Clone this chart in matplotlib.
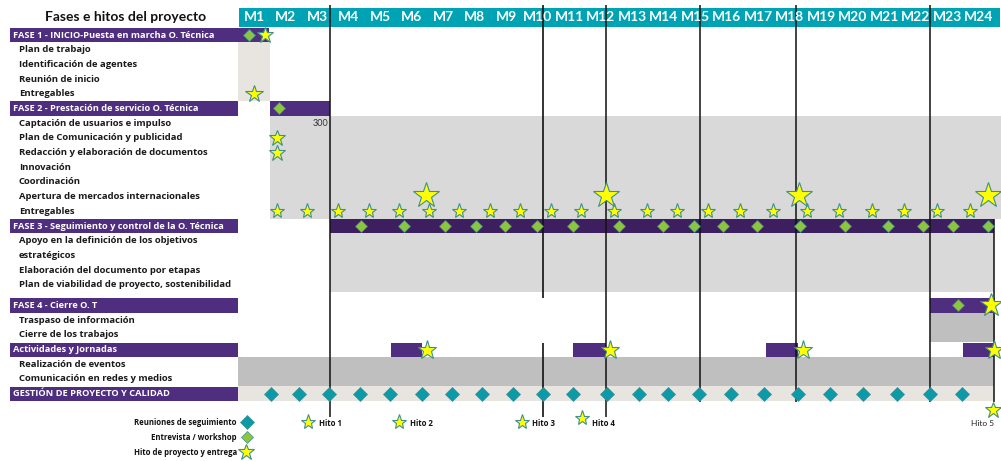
import matplotlib
matplotlib.use("Agg")
import matplotlib.pyplot as plt
from matplotlib.patches import Rectangle

# ---------------- data ----------------
title = "Fases e hitos del proyecto"
months = ["M1", "M2", "M3", "M4", "M5", "M6", "M7", "M8", "M9", "M10", "M11", "M12",
          "M13", "M14", "M15", "M16", "M17", "M18", "M19", "M20", "M21", "M22", "M23", "M24"]

row_labels = [
    "FASE 1 - INICIO-Puesta en marcha O. Técnica",
    "Plan de trabajo",
    "Identificación de agentes",
    "Reunión de inicio",
    "Entregables",
    "FASE 2 - Prestación de servicio O. Técnica",
    "Captación de usuarios e impulso",
    "Plan de Comunicación y publicidad",
    "Redacción y elaboración de documentos",
    "Innovación",
    "Coordinación",
    "Apertura de mercados internacionales",
    "Entregables",
    "FASE 3 - Seguimiento y control de la O. Técnica",
    "Apoyo en la definición de los objetivos",
    "estratégicos",
    "Elaboración del documento por etapas",
    "Plan de viabilidad de proyecto, sostenibilidad",
    "FASE 4 - Cierre O. T",
    "Traspaso de información",
    "Cierre de los trabajos",
    "Actividades y Jornadas",
    "Realización de eventos",
    "Comunicación en redes y medios",
    "GESTIÓN DE PROYECTO Y CALIDAD",
]
phase_rows = [0, 5, 13, 18, 21, 24]

# shaded blocks: (first row, last row, start month, end month, colour)
blocks = [
    (1, 4, 0.0, 1.0, "#e8e4df"),
    (6, 12, 1.0, 24.2, "#d9d9d9"),
    (14, 17, 2.9, 24.0, "#d9d9d9"),
    (19, 20, 21.95, 24.0, "#bfbfbf"),
    (22, 23, 0.0, 24.0, "#bfbfbf"),
    (24, 24, 0.0, 24.0, "#e8e4df"),
]
# purple bars in timeline: (row, start, end, colour)
phase_spans = [
    (0, 0.0, 0.98, "#4f2d7f"),
    (5, 1.0, 2.9, "#4f2d7f"),
    (13, 2.9, 24.0, "#3d1f5f"),
    (18, 21.95, 24.0, "#4f2d7f"),
]
activity_start = [4.85, 10.62, 16.75, 23.0]
activity_end = [5.82, 11.67, 17.76, 24.0]
activity_star_x = [5.98, 11.8, 17.91, 24.0]

workshop_rows = [0, 5, 18]
workshop_x = [0.33, 1.29, 22.84]
fase3_workshop_x = [3.89, 5.25, 6.56, 7.54, 8.46, 9.48, 10.62, 12.08, 13.49, 14.46,
                    15.38, 16.46, 17.83, 19.25, 20.62, 21.73, 22.68, 23.8]
meeting_x = [1.03, 1.92, 2.87, 3.86, 4.81, 5.83, 6.78, 7.73, 8.71, 9.67, 10.62, 11.70,
             12.71, 13.63, 14.61, 15.63, 16.68, 17.76, 18.78, 19.82, 20.9, 21.95, 22.97]
deliverable_x = [1.22, 2.17, 3.16, 4.14, 5.10, 6.05, 7.0, 7.98, 8.94, 9.92, 10.87, 11.92,
                 12.97, 13.92, 14.9, 15.92, 16.97, 18.05, 19.06, 20.1, 21.14, 22.18, 23.22]
big_star_x = [5.94, 11.68, 17.8, 23.8]
# other single stars: (row, x, size)
single_stars = [(0, 0.84, 12), (4, 0.5, 13), (7, 1.22, 12), (8, 1.22, 12), (18, 23.9, 17)]

milestone_lines = [2.9, 9.67, 11.67, 14.65, 17.7, 21.95]
line_bottom = [26.0, 26.0, 26.0, 24.97, 24.97, 24.97]

legend_labels = ["Reuniones de seguimiento", "Entrevista / workshop", "Hito de proyecto y entrega"]
hito_labels = ["Hito 1", "Hito 2", "Hito 3", "Hito 4"]
hito_x = [2.21, 5.1, 9.0, 10.9]
hito_y = [26.33, 26.33, 26.33, 26.05]

# ---------------- style ----------------
PURPLE = "#4f2d7f"
TEAL = "#00a3b3"
DTEAL = "#0b9aa8"
GREEN = "#8cc63f"
YELLOW = "#ffff00"
STAR_EDGE = "#3f8f8c"
FONT = ["Lato", "DejaVu Sans"]
LFONT = ["Open Sans", "DejaVu Sans"]

def row_y(i):
    return i + (0.4 if i >= 18 else 0.0)

fig = plt.figure(figsize=(10.01, 4.61), dpi=100)
ax = fig.add_axes([0, 0, 1, 1])
W = 31.5
X0 = 238.5
ax.set_xlim(-X0 / W, (1001 - X0) / W)
ax.set_ylim((461 - 35) / 14.7, -35 / 14.7)
ax.axis("off")

# header
ax.add_patch(Rectangle((0.02, -1.84), 24.14, 1.3, color=TEAL, lw=0, zorder=1))
for i, m in enumerate(months):
    ax.text(i + 0.5, -1.2, m, ha="center", va="center", color="white",
            fontsize=10, fontweight="bold", family=FONT, zorder=6)
ax.text(-3.6, -1.2, title, ha="center", va="center", color="#111111",
        fontsize=10, fontweight="bold", family=FONT)

# shaded blocks
for r0, r1, x0, x1, c in blocks:
    y0 = row_y(r0) - 0.5
    y1 = row_y(r1) + 0.5
    ax.add_patch(Rectangle((x0, y0), x1 - x0, y1 - y0, color=c, lw=0, zorder=1))

# labels
for i, lab in enumerate(row_labels):
    y = row_y(i)
    if i in phase_rows:
        ax.add_patch(Rectangle((-7.25, y - 0.48), 7.22, 0.96, color=PURPLE, lw=0, zorder=2))
        ax.text(-7.16, y, lab, ha="left", va="center", color="white", fontsize=6.7,
                fontweight="bold", family=LFONT, zorder=3)
    else:
        ax.text(-6.97, y, lab, ha="left", va="center", color="#1a1a1a", fontsize=6.8,
                fontweight="bold", family=LFONT, zorder=3)

ax.text(2.84, row_y(6), "300", ha="right", va="center", color="#333333", fontsize=6.5,
        family=FONT, zorder=3)

# purple bars
for r, x0, x1, c in phase_spans:
    y = row_y(r)
    ax.add_patch(Rectangle((x0, y - 0.48), x1 - x0, 0.96, color=c, lw=0, zorder=3))
for x0, x1 in zip(activity_start, activity_end):
    y = row_y(21)
    ax.add_patch(Rectangle((x0, y - 0.48), x1 - x0, 0.96, color=PURPLE, lw=0, zorder=3))

# vertical milestone lines
for x, yb in zip(milestone_lines, line_bottom):
    if x == 9.67:
        ax.vlines(x, -2.04, 17.9, color="#111111", lw=1.2, zorder=4)
        ax.vlines(x, 20.95, yb, color="#111111", lw=1.2, zorder=4)
    else:
        ax.vlines(x, -2.04, yb, color="#111111", lw=1.1, zorder=4)
ax.vlines(24.0, row_y(13) - 0.5, 24.97, color="#111111", lw=1.1, zorder=4)

# markers
def star(x, y, s):
    ax.plot(x, y, marker="*", ms=s, mfc=YELLOW, mec=STAR_EDGE, mew=0.8, ls="none", zorder=7)

def diamond(x, y, s, c):
    ax.plot(x, y, marker="D", ms=s, mfc=c, mec="#3f8f8c", mew=0.5, ls="none", zorder=6)

diamond(workshop_x, [row_y(r) for r in workshop_rows], 6, GREEN)
diamond(fase3_workshop_x, [row_y(13)] * len(fase3_workshop_x), 6, GREEN)
diamond(meeting_x, [row_y(24)] * len(meeting_x), 7, DTEAL)
star(deliverable_x, [row_y(12)] * len(deliverable_x), 11)
star(big_star_x, [row_y(11) - 0.1] * len(big_star_x), 19)
star(activity_star_x, [row_y(21)] * len(activity_star_x), 14)
for r, x, s in single_stars:
    star(x, row_y(r), s)

# legend
for k, lab in enumerate(legend_labels):
    y = 26.33 + k * 1.02
    ax.text(-0.05, y, lab, ha="right", va="center", color="#111111", fontsize=5.6,
            fontweight="bold", family=LFONT)
diamond(0.27, 26.33, 7, DTEAL)
diamond(0.27, 27.35, 6, GREEN)
star(0.24, 28.37, 12)
for lab, x, y in zip(hito_labels, hito_x, hito_y):
    star(x, y, 11)
    ax.text(x + 0.33, 26.4, lab, ha="left", va="center", color="#111111", fontsize=5.6,
            fontweight="bold", family=LFONT)
star(23.95, 25.5, 12)
ax.text(24.0, 26.4, "Hito 5", ha="right", va="center", color="#222222", fontsize=6,
        family=FONT)

fig.savefig("out.png", dpi=100)
